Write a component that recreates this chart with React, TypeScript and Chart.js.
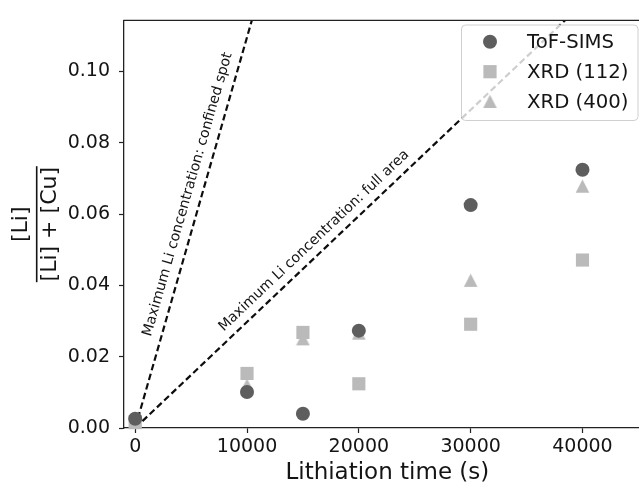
import React, { useEffect, useRef } from "react";
import { Chart, registerables } from "chart.js";

Chart.register(...registerables);

// ---- data ----
const lithiationTimes = [0, 10000, 15000, 20000, 30000, 40000];
const tofSimsValues = [0.0026, 0.0101, 0.004, 0.0273, 0.0625, 0.0724];
const xrd112Values = [0.0018, 0.0153, 0.0268, 0.0124, 0.0291, 0.0471];
const xrd400Values = [0.0015, 0.012, 0.025, 0.0266, 0.0414, 0.0678];

const confinedLineX = [0, 12000];
const confinedLineY = [0, 0.1315];
const fullLineX = [0, 46000];
const fullLineY = [0, 0.1368];

const xTickValues = [0, 10000, 20000, 30000, 40000];
const yTickValues = [0, 0.02, 0.04, 0.06, 0.08, 0.1];

const seriesLabels = ["ToF-SIMS", "XRD (112)", "XRD (400)"];
const confinedLabel = "Maximum Li concentration: confined spot";
const fullLabel = "Maximum Li concentration: full area";
const xTitle = "Lithiation time (s)";

const FONT = "'DejaVu Sans', 'Liberation Sans', sans-serif";
const DARK = "#5e5e5e";
const LIGHT = "#bababa";
const TEXT = "#141414";
const SPINE = "#222222";

function makeTriangle(color: string): HTMLCanvasElement {
  const c = document.createElement("canvas");
  c.width = 15;
  c.height = 15;
  const g = c.getContext("2d")!;
  g.fillStyle = color;
  g.beginPath();
  g.moveTo(7.5, 0.8);
  g.lineTo(14.3, 14);
  g.lineTo(0.7, 14);
  g.closePath();
  g.fill();
  return c;
}

export default function App() {
  const ref = useRef<HTMLCanvasElement | null>(null);

  useEffect(() => {
    const canvas = ref.current;
    if (!canvas) return;
    const tri = makeTriangle(LIGHT);

    const pts = (ys: number[]) => lithiationTimes.map((x, i) => ({ x, y: ys[i] }));
    const linePts = (xs: number[], ys: number[]) => xs.map((x, i) => ({ x, y: ys[i] }));

    const decorPlugin = {
      id: "decor",
      afterDatasetsDraw(chart: any) {
        const ctx = chart.ctx as CanvasRenderingContext2D;
        const { left, right, top, bottom } = chart.chartArea;
        const xs = chart.scales.x;
        const ys = chart.scales.y;

        // top spine
        ctx.save();
        ctx.strokeStyle = SPINE;
        ctx.lineWidth = 1.3;
        ctx.beginPath();
        ctx.moveTo(left - 0.6, top);
        ctx.lineTo(chart.width, top);
        ctx.stroke();
        ctx.restore();

        // line annotations
        const annotate = (
          lx: number[],
          ly: number[],
          centerX: number,
          offset: number,
          text: string
        ) => {
          const p0x = xs.getPixelForValue(lx[0]);
          const p0y = ys.getPixelForValue(ly[0]);
          const p1x = xs.getPixelForValue(lx[1]);
          const p1y = ys.getPixelForValue(ly[1]);
          const ang = Math.atan2(p1y - p0y, p1x - p0x);
          const t = (centerX - lx[0]) / (lx[1] - lx[0]);
          const cx = p0x + (p1x - p0x) * t;
          const cy = p0y + (p1y - p0y) * t;
          const nx = Math.sin(ang);
          const ny = -Math.cos(ang);
          ctx.save();
          ctx.translate(cx + nx * offset, cy + ny * offset);
          ctx.rotate(ang);
          ctx.font = `14.2px ${FONT}`;
          ctx.fillStyle = TEXT;
          ctx.textAlign = "center";
          ctx.textBaseline = "alphabetic";
          ctx.fillText(text, 0, 0);
          ctx.restore();
        };
        annotate(confinedLineX, confinedLineY, 5880, 10, confinedLabel);
        annotate(fullLineX, fullLineY, 16780, 9, fullLabel);

        // legend
        const bx = 461.5, by = 25, bw = 176.5, bh = 95.5, r = 4;
        ctx.save();
        ctx.beginPath();
        ctx.moveTo(bx + r, by);
        ctx.lineTo(bx + bw - r, by);
        ctx.quadraticCurveTo(bx + bw, by, bx + bw, by + r);
        ctx.lineTo(bx + bw, by + bh - r);
        ctx.quadraticCurveTo(bx + bw, by + bh, bx + bw - r, by + bh);
        ctx.lineTo(bx + r, by + bh);
        ctx.quadraticCurveTo(bx, by + bh, bx, by + bh - r);
        ctx.lineTo(bx, by + r);
        ctx.quadraticCurveTo(bx, by, bx + r, by);
        ctx.closePath();
        ctx.fillStyle = "rgba(255,255,255,0.8)";
        ctx.fill();
        ctx.strokeStyle = "#d0d0d0";
        ctx.lineWidth = 1;
        ctx.stroke();

        const mx = 490;
        const rows = [41.7, 71.7, 101.5];
        ctx.fillStyle = DARK;
        ctx.beginPath();
        ctx.arc(mx, rows[0], 7, 0, Math.PI * 2);
        ctx.fill();
        ctx.fillStyle = LIGHT;
        ctx.fillRect(mx - 6.6, rows[1] - 6.6, 13.2, 13.2);
        ctx.drawImage(tri, mx - 7.5, rows[2] - 7.5);

        ctx.font = `19.7px ${FONT}`;
        ctx.fillStyle = TEXT;
        ctx.textAlign = "left";
        ctx.textBaseline = "middle";
        seriesLabels.forEach((s, i) => ctx.fillText(s, 527, rows[i] + 1));
        ctx.restore();

        // x title
        ctx.save();
        ctx.font = `23px ${FONT}`;
        ctx.fillStyle = TEXT;
        ctx.textAlign = "center";
        ctx.textBaseline = "middle";
        ctx.fillText(xTitle, (left + right) / 2, 473);
        ctx.restore();

        // y title: [Li] / ([Li] + [Cu])
        ctx.save();
        ctx.translate(36.7, (top + bottom) / 2);
        ctx.rotate(-Math.PI / 2);
        ctx.font = `22px ${FONT}`;
        ctx.fillStyle = TEXT;
        ctx.textAlign = "center";
        ctx.textBaseline = "middle";
        ctx.fillText("[Li]", 0, -15);
        ctx.fillText("[Li] + [Cu]", 0, 13.5);
        ctx.fillRect(-58, -0.8, 116, 1.6);
        ctx.restore();
      },
    };

    const chart = new Chart(canvas, {
      type: "scatter",
      data: {
        datasets: [
          {
            label: seriesLabels[0],
            data: pts(tofSimsValues),
            pointStyle: "circle",
            pointRadius: 7,
            pointHoverRadius: 7,
            backgroundColor: DARK,
            borderWidth: 0,
            clip: false,
          } as any,
          {
            label: seriesLabels[1],
            data: pts(xrd112Values),
            pointStyle: "rect",
            pointRadius: 9.3,
            pointHoverRadius: 9.3,
            backgroundColor: LIGHT,
            borderWidth: 0,
            clip: false,
          },
          {
            label: seriesLabels[2],
            data: pts(xrd400Values),
            pointStyle: tri,
            pointRadius: 7.5,
            backgroundColor: LIGHT,
            borderWidth: 0,
            clip: false,
          },
          {
            label: fullLabel,
            data: linePts(fullLineX, fullLineY),
            showLine: true,
            borderColor: "#0d0d0d",
            borderWidth: 2.2,
            borderDash: [6.5, 3.5],
            pointRadius: 0,
            pointHoverRadius: 0,
            fill: false,
          },
          {
            label: confinedLabel,
            data: linePts(confinedLineX, confinedLineY),
            showLine: true,
            borderColor: "#0d0d0d",
            borderWidth: 2.2,
            borderDash: [6.5, 3.5],
            pointRadius: 0,
            pointHoverRadius: 0,
            fill: false,
          },
        ],
      },
      options: {
        responsive: false,
        animation: false,
        devicePixelRatio: 1,
        layout: { padding: { top: 14, right: 9, left: 0, bottom: 0 } },
        plugins: {
          legend: { display: false },
          tooltip: { enabled: false },
          title: { display: false },
        },
        scales: {
          x: {
            type: "linear",
            min: -1000,
            max: 46100,
            afterBuildTicks: (s: any) => {
              s.ticks = xTickValues.map((v) => ({ value: v }));
            },
            afterFit: (s: any) => {
              s.height = 56;
            },
            ticks: {
              font: { size: 19, family: FONT },
              color: TEXT,
              padding: 3,
              maxRotation: 0,
              autoSkip: false,
              callback: (v: any) => String(v),
            },
            grid: {
              drawOnChartArea: false,
              drawTicks: true,
              tickLength: 5,
              tickColor: SPINE,
              tickWidth: 1.2,
            },
            border: { display: true, color: SPINE, width: 1.3 },
          },
          y: {
            type: "linear",
            min: 0,
            max: 0.1143,
            afterBuildTicks: (s: any) => {
              s.ticks = yTickValues.map((v) => ({ value: v }));
            },
            afterFit: (s: any) => {
              s.width = 124;
            },
            ticks: {
              font: { size: 19, family: FONT },
              color: TEXT,
              padding: 9,
              autoSkip: false,
              callback: (v: any) => Number(v).toFixed(2),
            },
            grid: {
              drawOnChartArea: false,
              drawTicks: true,
              tickLength: 5,
              tickColor: SPINE,
              tickWidth: 1.2,
            },
            border: { display: true, color: SPINE, width: 1.3 },
          },
        },
      },
      plugins: [decorPlugin],
    });

    return () => chart.destroy();
  }, []);

  return (
    <div
      style={{
        position: "absolute",
        left: 0,
        top: 0,
        width: 639,
        height: 484,
        overflow: "hidden",
        background: "#ffffff",
      }}
    >
      <canvas ref={ref} width={660} height={484} style={{ display: "block" }} />
    </div>
  );
}
